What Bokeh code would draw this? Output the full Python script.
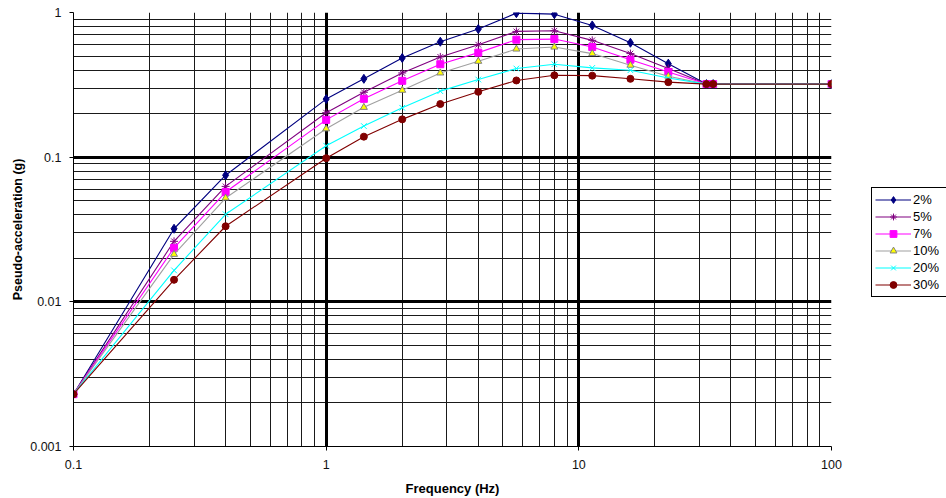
from bokeh.plotting import figure
from bokeh.layouts import row
from bokeh.models import Legend, LegendItem, FixedTicker, Grid, NumeralTickFormatter, Range1d
from bokeh.embed import file_html
from bokeh.resources import INLINE

# Frequencies (Hz)
freq = [0.1, 0.25, 0.4, 1.0, 1.41, 2.0, 2.83, 4.0, 5.66, 8.0, 11.3, 16.0, 22.6, 32.0, 34.0, 100.0]

# Pseudo-acceleration (g) for each damping ratio
damp_2 = [0.0023, 0.032, 0.075, 0.252, 0.348, 0.485, 0.628, 0.768, 0.99, 0.974, 0.814, 0.618, 0.443, 0.32, 0.32, 0.32]
damp_5 = [0.0023, 0.0262, 0.0628, 0.203, 0.281, 0.382, 0.493, 0.599, 0.74, 0.748, 0.642, 0.52, 0.41, 0.32, 0.32, 0.32]
damp_7 = [0.0023, 0.0236, 0.0574, 0.181, 0.253, 0.337, 0.439, 0.528, 0.649, 0.655, 0.577, 0.472, 0.388, 0.32, 0.32, 0.32]
damp_10 = [0.0023, 0.0213, 0.0522, 0.157, 0.221, 0.29, 0.382, 0.46, 0.559, 0.577, 0.52, 0.432, 0.363, 0.32, 0.32, 0.32]
damp_20 = [0.0023, 0.0165, 0.0403, 0.12, 0.164, 0.2195, 0.286, 0.344, 0.41, 0.439, 0.414, 0.399, 0.353, 0.32, 0.32, 0.32]
damp_30 = [0.0023, 0.0142, 0.0333, 0.0984, 0.1386, 0.1825, 0.233, 0.283, 0.339, 0.368, 0.366, 0.348, 0.33, 0.32, 0.32, 0.32]

series_names = ["2%", "5%", "7%", "10%", "20%", "30%"]
series_values = [damp_2, damp_5, damp_7, damp_10, damp_20, damp_30]

# Axis tick values
x_major = [0.1, 1, 10, 100]
y_major = [0.001, 0.01, 0.1, 1]
x_thick = [1, 10, 100]
y_thick = [0.01, 0.1, 1]
multipliers = [2, 3, 4, 5, 6, 7, 8, 9]
x_minor = [m * d for d in x_major[:-1] for m in multipliers]
y_minor = [m * d for d in y_major[:-1] for m in multipliers]

# Styles
line_colors = ["#000080", "#800080", "#FF00FF", "#A0A0A0", "#00FFFF", "#800000"]
fill_colors = ["#000080", "#800080", "#FF00FF", "#FFFF00", "#00FFFF", "#800000"]
edge_colors = ["#000080", "#800080", "#FF00FF", "#808080", "#00FFFF", "#800000"]
markers = ["diamond", "asterisk", "square", "triangle", "x", "circle"]
sizes = [9, 8, 7, 7, 8, 7]

FONT = "Liberation Sans"

p = figure(
    width=862, height=498,
    x_axis_type="log", y_axis_type="log",
    x_range=Range1d(0.1, 100), y_range=Range1d(0.001, 1),
    output_backend="svg", toolbar_location=None, title=None,
    min_border_left=73, min_border_right=31, min_border_top=12, min_border_bottom=50,
)
p.outline_line_color = None
p.background_fill_color = "white"
p.border_fill_color = "white"

xt = FixedTicker(ticks=x_major, minor_ticks=x_minor)
yt = FixedTicker(ticks=y_major, minor_ticks=y_minor)
p.xaxis.ticker = xt
p.yaxis.ticker = yt
p.xgrid.ticker = xt
p.ygrid.ticker = yt
for g in (p.xgrid, p.ygrid):
    g.grid_line_color = None
    g.minor_grid_line_color = "#1a1a1a"
    g.minor_grid_line_width = 1

p.add_layout(Grid(dimension=0, ticker=FixedTicker(ticks=x_thick), grid_line_color="black", grid_line_width=3))
p.add_layout(Grid(dimension=1, ticker=FixedTicker(ticks=y_thick), grid_line_color="black", grid_line_width=3))

for ax in (p.xaxis, p.yaxis):
    ax.formatter = NumeralTickFormatter(format="0.[000]")
    ax.major_tick_out = 4
    ax.major_tick_in = 0
    ax.minor_tick_out = 0
    ax.minor_tick_in = 0
    ax.axis_line_color = "black"
    ax.major_tick_line_color = "black"
    ax.major_label_text_font = FONT
    ax.major_label_text_font_size = "12.5px"
    ax.major_label_text_color = "#111111"
    ax.axis_label_text_font = FONT
    ax.axis_label_text_font_style = "bold"
    ax.axis_label_text_color = "black"

p.xaxis.axis_label = "Frequency (Hz)"
p.xaxis.axis_label_text_font_size = "13px"
p.xaxis.major_label_standoff = 9
p.xaxis.axis_label_standoff = 9
p.yaxis.axis_label = "Pseudo-acceleration (g)"
p.yaxis.axis_label_text_font_size = "12.5px"
p.yaxis.major_label_standoff = 8
p.yaxis.axis_label_standoff = 2

for vals, lc, fc, ec, mk, sz in zip(series_values, line_colors, fill_colors,
                                    edge_colors, markers, sizes):
    p.line(freq, vals, line_color=lc, line_width=1.1)
    p.scatter(freq, vals, marker=mk, size=sz, fill_color=fc, line_color=ec, line_width=1)

# Legend panel to the right of the chart (its ranges keep the series out of view,
# the renderers only supply the legend glyph styles)
pl = figure(
    width=84, height=498, x_axis_type=None, y_axis_type=None,
    x_range=Range1d(-2, -1), y_range=Range1d(-2, -1),
    output_backend="svg", toolbar_location=None, title=None, min_border=0,
)
pl.outline_line_color = None
pl.background_fill_color = "white"
pl.border_fill_color = "white"

items = []
for name, vals, lc, fc, ec, mk, sz in zip(series_names, series_values, line_colors,
                                          fill_colors, edge_colors, markers, sizes):
    lr = pl.line(freq, vals, line_color=lc, line_width=1.1)
    sr = pl.scatter(freq, vals, marker=mk, size=sz, fill_color=fc, line_color=ec, line_width=1)
    items.append(LegendItem(label=name, renderers=[lr, sr]))

legend = Legend(
    items=items, location=(9, 149), orientation="vertical",
    padding=3, margin=0, spacing=0,
    glyph_width=36, glyph_height=17, label_height=17, label_width=30, label_standoff=2,
    label_text_font=FONT, label_text_font_size="13px", label_text_color="black",
    border_line_color="black", border_line_width=1, border_line_alpha=1.0,
    background_fill_color="white", background_fill_alpha=1.0,
)
pl.add_layout(legend)

layout = row(p, pl, spacing=0)
open("out.html", "w").write(file_html(layout, INLINE))
